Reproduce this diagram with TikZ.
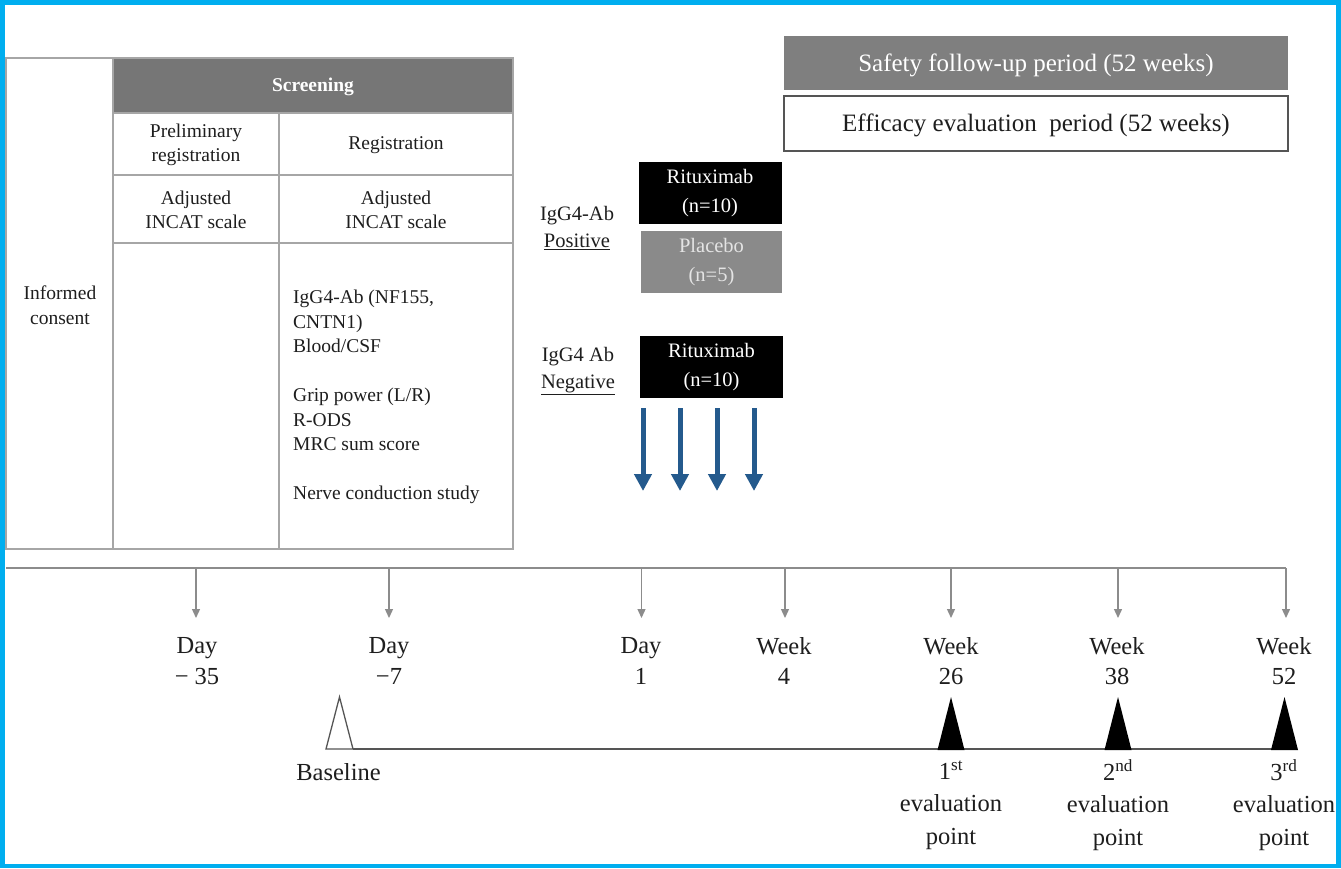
\documentclass[tikz,border=0pt]{standalone}
\usepackage{fontspec}
\setmainfont{Liberation Serif}
\usetikzlibrary{arrows.meta}
\definecolor{frameblue}{HTML}{00AEEF}
\definecolor{hdrgray}{HTML}{767676}
\definecolor{safegray}{HTML}{7F7F7F}
\definecolor{linegray}{HTML}{A6A6A6}
\definecolor{tickgray}{HTML}{8C8C8C}
\definecolor{txt}{HTML}{1E1E1E}
\definecolor{placebogray}{HTML}{8A8A8A}
\definecolor{placebotxt}{HTML}{E4E4E4}
\definecolor{arrowblue}{HTML}{245A8D}
\definecolor{darkline}{HTML}{555555}
\newcommand{\fsz}[2]{\fontsize{#1}{#2}\selectfont}
\begin{document}
\begin{tikzpicture}[x=1pt,y=-1pt,
  every node/.style={text=txt, inner sep=0pt},
  tbl/.style={font=\fsz{19.5}{24.5}, align=center},
  tickarrow/.style={draw=tickgray, line width=1.3pt, -{Triangle[length=9pt,width=8pt]}},
  lbl/.style={font=\fsz{24.5}{30.3}, align=center},
  evallbl/.style={font=\fsz{24.5}{32.5}, align=center},
  armbox/.style={minimum width=143pt, minimum height=62pt, font=\fsz{20.5}{28.5}, align=center, text=white},
  grplbl/.style={font=\fsz{20.5}{26.5}, align=center},
  bluearrow/.style={draw=arrowblue, line width=5pt, -{Triangle[length=17pt,width=17pt]}},
  periodbox/.style={minimum width=504pt, font=\fsz{25}{30}, text height=17pt, text depth=1pt},
]
\useasboundingbox (0,0) rectangle (1341,868);
% frame
\fill[frameblue] (0,0) rectangle (1341,868);
\fill[white] (5,5) rectangle (1336,864);

% ---------- table ----------
\fill[hdrgray] (113,58) rectangle (513,113);
\draw[linegray, line width=1.5pt] (6,58) rectangle (513,549);
\draw[linegray, line width=1.5pt]
  (113,58) -- (113,549)
  (279,113) -- (279,549)
  (113,113) -- (513,113)
  (113,175) -- (513,175)
  (113,243) -- (513,243);

\node[tbl] (ic) at (60,305) {Informed\\consent};
\node[tbl, font=\fsz{19.5}{24.5}\bfseries, text=white] (scr) at (313,87) {Screening};
\node[tbl] (prel) at (196,145) {Preliminary\\registration};
\node[tbl] (reg) at (396,145) {Registration};
\node[tbl] (inc1) at (196,210) {Adjusted\\INCAT scale};
\node[tbl] (inc2) at (396,210) {Adjusted\\INCAT scale};
\node[font=\fsz{19.5}{24.5}, align=left, anchor=north west] (items) at (293,290)
  {IgG4-Ab (NF155,\\CNTN1)\\Blood/CSF\\[24.5pt]Grip power (L/R)\\R-ODS\\MRC sum score\\[24.5pt]Nerve conduction study};

% ---------- arms ----------
\node[grplbl] (pos) at (577,228) {IgG4-Ab\\\underline{Positive}};
\node[grplbl] (neg) at (578,371) {IgG4 Ab\\\underline{Negative}};
\node[armbox, fill=black] (rit1) at (710,193) {Rituximab\\(n=10)};
\node[armbox, fill=placebogray, minimum width=141pt, text=placebotxt] (plc) at (711.5,262) {Placebo\\(n=5)};
\node[armbox, fill=black] (rit2) at (711.5,367) {Rituximab\\(n=10)};

\foreach \i/\x in {1/643,2/680,3/717,4/754}{
  \coordinate (ba\i) at (\x,408);
  \coordinate (bb\i) at (\x,491);
  \draw[bluearrow] (ba\i) -- (bb\i);
}

% ---------- periods ----------
\node[periodbox, fill=safegray, minimum height=54pt, text=white] (safe) at (1036,63)
  {Safety follow-up period (52 weeks)};
\node[periodbox, draw=darkline, line width=1.5pt, fill=white, minimum height=55pt] (eff) at (1036,123.5)
  {Efficacy evaluation~~period (52 weeks)};

% ---------- timeline ----------
\coordinate (tlL) at (6,568);
\coordinate (tlR) at (1286,568);
\draw[tickgray, line width=1.8pt] (tlL) -- (tlR);
\foreach \i/\x in {1/196,2/389,3/641.5,4/785,5/951,6/1118,7/1286}{
  \coordinate (ts\i) at (\x,568);
  \coordinate (te\i) at (\x,618);
  \draw[tickarrow] (ts\i) -- (te\i);
}
\node[lbl] (l1) at (197,661) {Day\\− 35};
\node[lbl] (l2) at (389,661) {Day\\−7};
\node[lbl] (l3) at (641,661) {Day\\1};
\node[lbl] (l4) at (784,661) {Week\\4};
\node[lbl] (l5) at (951,661) {Week\\26};
\node[lbl] (l6) at (1117,661) {Week\\38};
\node[lbl] (l7) at (1284,661) {Week\\52};

% ---------- evaluation line ----------
\coordinate (evL) at (353,749);
\coordinate (evR) at (1272,749);
\draw[darkline, line width=1.8pt] (evL) -- (evR);
\draw[darkline, line width=1.3pt, fill=white] (326,749) -- (339.5,697) -- (353,749) -- cycle;
\foreach \x in {951,1118,1284.5}{
  \fill[black] (\x-13.5,750) -- (\x,697) -- (\x+13.5,750) -- cycle;
}
\node[lbl] (bl) at (338.5,772) {Baseline};
\node[evallbl] (ev1) at (951,805) {1\textsuperscript{st}\\evaluation\\point};
\node[evallbl] (ev2) at (1118,805) {2\textsuperscript{nd}\\evaluation\\point};
\node[evallbl] (ev3) at (1284,805) {3\textsuperscript{rd}\\evaluation\\point};
\end{tikzpicture}
\end{document}
